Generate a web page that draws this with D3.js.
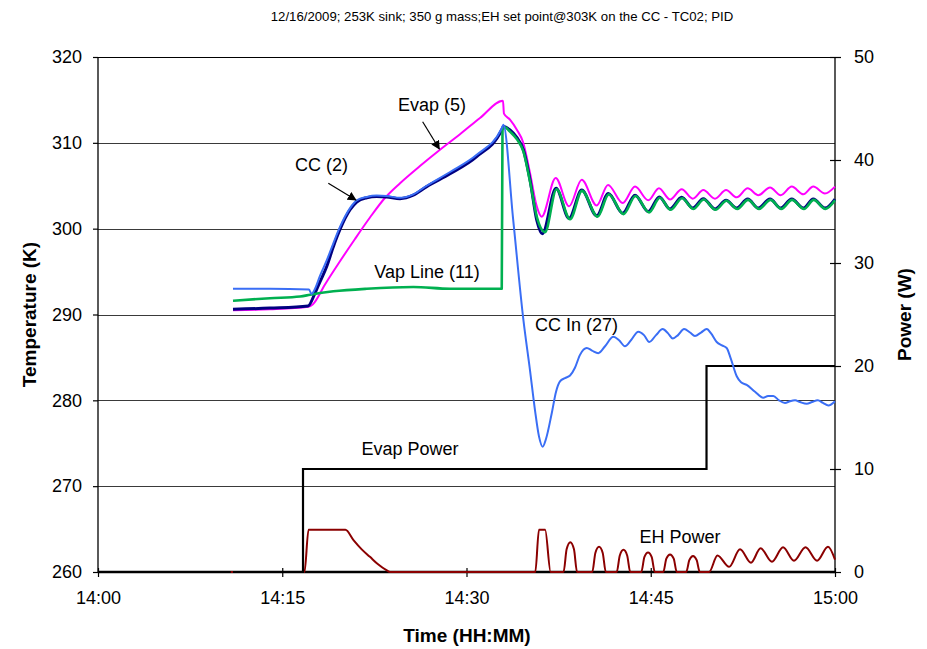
<!DOCTYPE html>
<html><head><meta charset="utf-8">
<script src="https://cdn.jsdelivr.net/npm/d3@7"></script>
<style>
html,body{margin:0;padding:0;background:#fff;}
text{font-family:"Liberation Sans",Arial,sans-serif;fill:#000;}
</style></head>
<body><svg id="chart" width="927" height="649"></svg>
<script>
const chartTitle = "12/16/2009; 253K sink; 350 g mass;EH set point@303K on the CC - TC02; PID";
const xTitle = "Time (HH:MM)";
const yLeftTitle = "Temperature (K)";
const yRightTitle = "Power (W)";
const timeTicks = ["14:00","14:15","14:30","14:45","15:00"];
const tempTicks = [260,270,280,290,300,310,320];
const powerTicks = [0,10,20,30,40,50];

// minutes after 14:00 and values
const evapMin = [10.99,14.00,17.10,17.50,18.48,19.70,20.92,22.14,23.37,24.59,26.21,27.84,29.47,31.10,32.97,33.05,33.54,34.11,34.60,35.17,35.72,36.12,37.26,38.35,39.38,40.60,41.52,42.72,43.72,44.80,45.67,46.57,47.52,48.42,49.28,50.23,51.13,52.00,52.89,53.76,54.71,55.58,56.48,57.42,58.23,59.18,60.00];
const evapK = [290.5,290.6,290.9,291.2,293.5,296.2,298.8,301.3,303.6,305.3,307.3,309.2,311.0,312.9,314.9,313.4,312.7,311.5,310.1,306.5,302.6,301.4,305.9,302.6,305.7,302.7,305.1,303.0,304.9,303.3,304.7,303.4,304.6,303.5,304.5,303.5,304.5,303.65,304.7,303.9,304.8,303.9,304.9,304.0,304.9,304.1,304.9];

const ccMin = [10.99,14.00,17.10,17.67,18.07,18.62,19.16,19.70,20.52,21.06,21.88,22.69,23.50,24.59,25.67,26.76,28.66,30.83,32.87,33.00,33.54,34.11,34.63,35.17,35.72,36.17,37.29,38.35,39.38,40.60,41.55,42.72,43.72,44.80,45.70,46.57,47.52,48.42,49.28,50.23,51.13,52.00,52.89,53.76,54.71,55.58,56.48,57.42,58.23,59.18,60.00];
const ccK = [290.6,290.75,291.0,292.5,293.8,295.6,297.9,299.9,302.2,303.1,303.6,303.75,303.7,303.5,303.9,304.9,306.4,308.4,311.5,311.9,311.5,310.6,309.2,305.7,301.0,299.4,304.7,301.2,304.5,301.5,304.1,301.8,303.9,302.0,303.7,302.3,303.65,302.4,303.5,302.3,303.3,302.4,303.45,302.4,303.45,302.4,303.45,302.4,303.45,302.4,303.45];

const vapMin = [10.99,14.00,16.45,17.26,18.07,19.16,21.88,25.67,28.66,32.87,32.93,33.14,33.54,34.11,34.63,35.17,35.74,36.39,37.33,38.43,39.40,40.67,41.58,42.78,43.76,44.86,45.74,46.61,47.55,48.46,49.32,50.27,51.17,52.05,52.92,53.81,54.75,55.63,56.50,57.47,58.27,59.22,60.00];
const vapK = [291.6,291.9,292.1,292.3,292.5,292.7,293.0,293.2,293.0,293.0,311.5,311.8,311.3,310.4,309.0,305.5,301.3,299.6,304.6,301.1,304.4,301.4,304.0,301.7,303.8,301.9,303.6,302.2,303.55,302.3,303.4,302.2,303.25,302.3,303.35,302.3,303.35,302.3,303.35,302.3,303.35,302.3,303.3];

const ccInMin = [10.99,14.00,17.18,17.38,17.67,18.07,18.62,19.16,19.70,20.52,21.06,21.88,22.69,23.50,24.59,25.67,26.76,28.66,30.83,32.87,33.00,33.79,34.63,35.17,35.58,35.90,36.20,36.47,36.94,37.29,37.61,38.02,38.43,38.83,39.24,39.79,40.22,40.73,41.28,41.95,42.42,42.90,43.39,43.99,44.45,44.88,45.43,45.97,46.41,46.79,47.22,47.71,48.20,48.60,49.09,49.56,49.91,50.37,50.80,51.18,51.53,52.00,52.35,52.81,53.49,54.16,54.55,54.98,55.44,55.93,56.34,56.75,57.15,57.70,58.13,58.60,59.02,59.46,60.00];
const ccInK = [293.0,293.0,292.9,292.4,293.0,294.5,296.3,298.3,300.2,302.4,303.3,303.7,303.85,303.8,303.6,304.0,305.0,306.6,308.6,311.7,312.1,301.2,289.4,283.5,278.8,275.8,274.6,275.5,278.5,281.0,282.2,282.6,282.9,283.8,285.3,286.1,285.8,285.5,286.3,287.4,287.0,286.3,287.0,288.0,287.6,286.8,287.6,288.3,287.8,287.2,287.6,288.3,287.9,287.5,287.9,288.3,287.8,286.8,286.4,286.1,284.8,282.8,282.1,281.8,281.0,280.3,280.5,280.5,280.0,279.7,279.9,280.0,279.8,279.6,279.8,280.0,279.7,279.4,279.9];

const evapPowerMin = [10.99,16.69,49.54,60.00];
const evapPowerW = [0,10,20,20];

const ehMin = [10.81,16.81,17.14,20.14,20.80,21.47,22.14,22.80,23.45,23.80,
  35.60,35.90,36.40,36.85,
  37.90,38.15,38.45,38.75,39.00,
  40.24,40.49,40.79,41.09,41.34,
  42.23,42.48,42.78,43.08,43.33,
  44.23,44.48,44.78,45.08,45.33,
  46.02,46.27,46.57,46.87,47.12,
  47.89,48.14,48.44,48.74,48.99,
  49.75,50.43,51.38,52.27,53.16,53.94,54.87,55.77,56.66,57.60,58.54,59.43,60.00];
const ehW = [0,0,4.1,4.1,3.1,2.2,1.47,0.75,0.2,0,
  0,4.1,4.1,0,
  0,2.2,2.9,2.2,0,
  0,1.85,2.45,1.85,0,
  0,1.6,2.15,1.6,0,
  0,1.45,1.9,1.45,0,
  0,1.3,1.7,1.3,0,
  0,1.15,1.55,1.15,0,
  0,1.6,0.5,2.2,0.9,2.3,1.0,2.4,1.1,2.4,1.1,2.45,1.2];

// annotations in data units
const tempLabels = [
  {text:"Evap (5)", min:27.19, k:313.7},
  {text:"CC (2)", min:18.2, k:306.7},
  {text:"Vap Line (11)", min:26.79, k:294.25},
  {text:"CC In (27)", min:38.96, k:288.08}
];
const powerLabels = [
  {text:"Evap Power", min:25.4, w:11.36},
  {text:"EH Power", min:47.38, w:2.82}
];
const arrows = [
  {min0:26.43, k0:312.46, min1:27.79, k1:309.28},
  {min0:18.75, k0:305.28, min1:21.0, k1:303.34}
];

const W = 927, H = 649;
const m = {left:98, right:92, top:57, bottom:77};
const base = new Date(2009,11,16,14,0,0);
const toDate = mm => new Date(base.getTime() + mm*60000);
const parseT = s => { const [h,mi] = s.split(":").map(Number); return new Date(2009,11,16,h,mi,0); };

const x = d3.scaleTime().domain([parseT("14:00"), parseT("15:00")]).range([m.left, W - m.right]);
const yL = d3.scaleLinear().domain([260,320]).range([H - m.bottom, m.top]);
const yR = d3.scaleLinear().domain([0,50]).range([H - m.bottom, m.top]);

const svg = d3.select("#chart");

// title
svg.append("text").attr("x", 502).attr("y", 21).attr("text-anchor","middle")
  .style("font-size","13.2px").text(chartTitle);

// gridlines
svg.append("g").selectAll("line").data(tempTicks.filter(v => v > 260)).join("line")
  .attr("x1", m.left).attr("x2", W - m.right)
  .attr("y1", d => Math.round(yL(d)) + 0.5).attr("y2", d => Math.round(yL(d)) + 0.5)
  .attr("stroke", d => d === 320 ? "#000" : "#3a3a3a").attr("stroke-width", 1.2);

// left axis
const gL = svg.append("g").attr("transform", `translate(${m.left},0)`)
  .call(d3.axisLeft(yL).tickValues(tempTicks).tickSize(5).tickPadding(11).tickFormat(d3.format("d")));
// right axis
const gR = svg.append("g").attr("transform", `translate(${W - m.right},0)`)
  .call(d3.axisRight(yR).tickValues(powerTicks).tickSize(6).tickPadding(13).tickFormat(d3.format("d")));
gR.selectAll(".tick line").attr("x1", -5);
// bottom axis
const gB = svg.append("g").attr("transform", `translate(0,${H - m.bottom})`)
  .call(d3.axisBottom(x).tickValues(timeTicks.map(parseT)).tickSize(5).tickPadding(14).tickFormat(d3.timeFormat("%H:%M")));
gB.selectAll(".tick line").attr("y1", -4);

[gL, gR, gB].forEach(g => {
  g.select(".domain").attr("stroke","#000").attr("stroke-width",1.3);
  g.selectAll(".tick line").attr("stroke","#000").attr("stroke-width",1.2);
  g.selectAll(".tick text").style("font-size","18px").attr("fill","#000")
    .style("font-family","'Liberation Sans',Arial,sans-serif");
});
gL.select(".domain").attr("d", `M0,${m.top}V${H - m.bottom}`);
gR.select(".domain").attr("d", `M0,${m.top}V${H - m.bottom}`);
gB.select(".domain").attr("d", `M${m.left},0H${W - m.right}`).attr("stroke-width", 2.5);

// axis titles
svg.append("text").attr("transform", `translate(36,${(m.top + H - m.bottom)/2}) rotate(-90)`)
  .attr("text-anchor","middle").style("font-size","19px").style("font-weight","bold").text(yLeftTitle);
svg.append("text").attr("transform", `translate(911,${(m.top + H - m.bottom)/2}) rotate(-90)`)
  .attr("text-anchor","middle").style("font-size","19px").style("font-weight","bold").text(yRightTitle);
svg.append("text").attr("x", 467).attr("y", 642).attr("text-anchor","middle")
  .style("font-size","19px").style("font-weight","bold").text(xTitle);

// power lines
const zip = (a, b) => a.map((v, i) => [v, b[i]]);
const lineR = d3.line().x(d => x(toDate(d[0]))).y(d => yR(d[1])).curve(d3.curveMonotoneX);
const lineL = d3.line().x(d => x(toDate(d[0]))).y(d => yL(d[1])).curve(d3.curveMonotoneX);

svg.append("path").datum(zip(ehMin, ehW))
  .attr("d", lineR).attr("fill","none").attr("stroke","#8B0000").attr("stroke-width",2);
svg.append("path").datum(zip(evapPowerMin, evapPowerW))
  .attr("d", d3.line().x(d => x(toDate(d[0]))).y(d => yR(d[1])).curve(d3.curveStepAfter))
  .attr("fill","none").attr("stroke","#000").attr("stroke-width",2.2);

// temperature lines
const tempSeries = [
  {m: evapMin, v: evapK, color:"#FF00FF", w:2},
  {m: ccMin, v: ccK, color:"#000080", w:3},
  {m: vapMin, v: vapK, color:"#00B050", w:2.6},
  {m: ccInMin, v: ccInK, color:"#3A6EF5", w:2}
];
tempSeries.forEach(s => {
  svg.append("path").datum(zip(s.m, s.v)).attr("d", lineL)
    .attr("fill","none").attr("stroke", s.color).attr("stroke-width", s.w).attr("stroke-linejoin","round");
});

// arrows
svg.append("defs").append("marker").attr("id","ah").attr("viewBox","0 0 10 10")
  .attr("refX",9).attr("refY",5).attr("markerWidth",9).attr("markerHeight",9)
  .attr("markerUnits","userSpaceOnUse").attr("orient","auto")
  .append("path").attr("d","M0,0L10,5L0,10z").attr("fill","#000");
svg.append("g").selectAll("line").data(arrows).join("line")
  .attr("x1", d => x(toDate(d.min0))).attr("y1", d => yL(d.k0))
  .attr("x2", d => x(toDate(d.min1))).attr("y2", d => yL(d.k1))
  .attr("stroke","#000").attr("stroke-width",1.2).attr("marker-end","url(#ah)");

// labels
svg.append("g").selectAll("text").data(tempLabels).join("text")
  .attr("x", d => x(toDate(d.min))).attr("y", d => yL(d.k)).attr("text-anchor","middle")
  .style("font-size","18px").text(d => d.text);
svg.append("g").selectAll("text").data(powerLabels).join("text")
  .attr("x", d => x(toDate(d.min))).attr("y", d => yR(d.w)).attr("text-anchor","middle")
  .style("font-size","18px").text(d => d.text);
</script>
</body></html>
